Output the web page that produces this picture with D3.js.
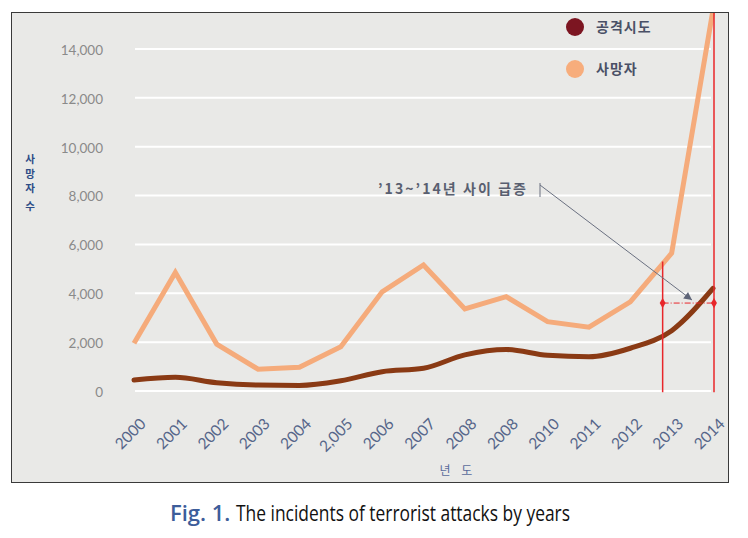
<!DOCTYPE html>
<html><head><meta charset="utf-8">
<script src="https://cdn.jsdelivr.net/npm/d3@7"></script>
<style>
html,body{margin:0;padding:0;background:#fff;}
svg{display:block;}
</style></head>
<body>
<svg id="chart" width="748" height="538"></svg>
<script>
// ---- data ----
const categories = ["2000","2001","2002","2003","2004","2,005","2006","2007","2008","2008","2010","2011","2012","2013","2014"];
const attacks = [450, 560, 340, 245, 230, 420, 790, 930, 1480, 1700, 1460, 1400, 1750, 2470, 4200];
const deaths  = [1950, 4850, 1920, 890, 970, 1810, 4060, 5160, 3360, 3860, 2840, 2610, 3650, 5640, 15600];
const yTicks = [0, 2000, 4000, 6000, 8000, 10000, 12000, 14000];
const legendLabels = ["공격시도", "사망자"];
const annotationText = "’13~’14년 사이 급증";
const annotationLevel = 3600;
const yTitle = ["사","망","자","수"];
const xTitle = "년 도";

const svg = d3.select("#chart");
const frame = {x:11, y:12, w:717, h:470};

svg.append("rect").attr("x",frame.x+0.5).attr("y",frame.y+0.5).attr("width",frame.w).attr("height",frame.h)
  .attr("fill","#e9e9e7").attr("stroke","#3a3a3a").attr("stroke-width",1);

svg.append("clipPath").attr("id","clip").append("rect")
  .attr("x",frame.x+1).attr("y",frame.y+1).attr("width",frame.w-1).attr("height",frame.h-1);

const x = d3.scaleLinear().domain([0, categories.length-1]).range([134, 713]);
const y = d3.scaleLinear().domain([0, 14000]).range([391, 49]);

// gridlines
svg.append("g").selectAll("line").data(yTicks).join("line")
  .attr("x1",135).attr("x2",711).attr("y1",d=>y(d)).attr("y2",d=>y(d))
  .attr("stroke","#ffffff").attr("stroke-width",2);

// y axis labels
const yAxis = d3.axisLeft(y).tickValues(yTicks).tickSize(0).tickPadding(0).tickFormat(d3.format(","));
const gy = svg.append("g").attr("transform","translate(103,1)").call(yAxis);
gy.select(".domain").remove();
gy.selectAll("text").attr("font-family","Lato, 'DejaVu Sans', sans-serif").attr("font-size",13.5)
  .attr("fill","#8a8a8a").attr("text-anchor","end");

// x axis labels (rotated)
const gx = svg.append("g");
gx.selectAll("text").data(categories).join("text")
  .attr("x",0).attr("y",0)
  .attr("transform",(d,i)=>"translate(" + (x(i)+9) + "," + 421 + ") rotate(-45)")
  .attr("text-anchor","end").attr("dy","0.35em")
  .attr("font-family","Lato, 'DejaVu Sans', sans-serif").attr("font-size",15.5)
  .attr("fill","#56668a").text(d=>d);

// y title (stacked characters)
svg.append("g").selectAll("text").data(yTitle).join("text")
  .attr("x",30).attr("y",(d,i)=>163 + i*14.5 + (i===3?3:0))
  .attr("text-anchor","middle").attr("font-family","'Noto Sans CJK KR', sans-serif")
  .attr("font-weight","bold").attr("font-size",10.5).attr("fill","#2d4c86").text(d=>d);

// x title
svg.append("text").attr("x",458).attr("y",475).attr("text-anchor","middle")
  .attr("font-family","'Noto Sans CJK KR', sans-serif").attr("font-size",12)
  .attr("fill","#5a6c9c").attr("letter-spacing","4px").text(xTitle);

// lines
const plot = svg.append("g").attr("clip-path","url(#clip)");
plot.append("path").datum(deaths)
  .attr("d", d3.line().x((d,i)=>x(i)).y(d=>y(d)))
  .attr("fill","none").attr("stroke","#f5ab7b").attr("stroke-width",5).attr("stroke-linejoin","miter");
plot.append("path").datum(attacks)
  .attr("d", d3.line().x((d,i)=>x(i)).y(d=>y(d)).curve(d3.curveMonotoneX))
  .attr("fill","none").attr("stroke","#8a3a14").attr("stroke-width",5).attr("stroke-linecap","round");

// red annotation lines
const xr1 = x(13) - 9, xr2 = x(14) + 1;
svg.append("line").attr("x1",xr1).attr("x2",xr1).attr("y1",y(5300)).attr("y2",y(-50))
  .attr("stroke","#e8262a").attr("stroke-width",1.5);
svg.append("line").attr("x1",xr2).attr("x2",xr2).attr("y1",frame.y+1).attr("y2",y(-50))
  .attr("stroke","#e8262a").attr("stroke-width",1.5);
svg.append("line").attr("x1",xr1).attr("x2",xr2).attr("y1",y(annotationLevel)).attr("y2",y(annotationLevel))
  .attr("stroke","#e8262a").attr("stroke-width",1).attr("stroke-dasharray","6,2,1,2");
[xr1,xr2].forEach(cx=>{
  svg.append("path").attr("d",d3.symbol(d3.symbolDiamond, 30)())
    .attr("transform","translate(" + cx + "," + y(annotationLevel) + ")").attr("fill","#e8262a");
});

// annotation text + arrow
svg.append("defs").append("marker").attr("id","arrow").attr("viewBox","0 0 10 10")
  .attr("refX",10).attr("refY",5).attr("markerWidth",10).attr("markerHeight",8).attr("orient","auto")
  .attr("markerUnits","userSpaceOnUse")
  .append("path").attr("d","M0,0 L10,5 L0,10 Z").attr("fill","#5e6478");
svg.append("text").attr("x",378).attr("y",194)
  .attr("font-family","'Noto Sans CJK KR', sans-serif").attr("font-weight","bold").attr("font-size",14)
  .attr("fill","#595f70").attr("textLength",148).attr("lengthAdjust","spacing").text(annotationText);
svg.append("line").attr("x1",540).attr("x2",540).attr("y1",183).attr("y2",197)
  .attr("stroke","#6a7080").attr("stroke-width",1);
svg.append("line").attr("x1",540).attr("y1",185).attr("x2",x(14)-21).attr("y2",y(annotationLevel)-3)
  .attr("stroke","#6a7080").attr("stroke-width",1).attr("marker-end","url(#arrow)");

// legend
const legendColors = ["#7c1521","#f7ad7c"];
const lg = svg.append("g");
legendLabels.forEach((t,i)=>{
  lg.append("circle").attr("cx",575).attr("cy",27+i*42).attr("r",9).attr("fill",legendColors[i]);
  lg.append("text").attr("x",596).attr("y",27+i*42).attr("dy","0.36em")
    .attr("font-family","'Noto Sans CJK KR', sans-serif").attr("font-weight","bold").attr("font-size",14)
    .attr("fill","#4a5066").attr("letter-spacing","1px").text(t);
});

// caption
svg.append("text").attr("x",170).attr("y",521)
  .attr("font-family","'Open Sans', 'Noto Sans', sans-serif").attr("font-size",22).attr("font-weight","600")
  .attr("fill","#3d5d9a").text("Fig. 1.");
svg.append("text").attr("x",236).attr("y",521)
  .attr("font-family","'Open Sans', 'Noto Sans', sans-serif").attr("font-size",22)
  .attr("fill","#111").attr("textLength",334).attr("lengthAdjust","spacingAndGlyphs")
  .text("The incidents of terrorist attacks by years");
</script>
</body></html>
